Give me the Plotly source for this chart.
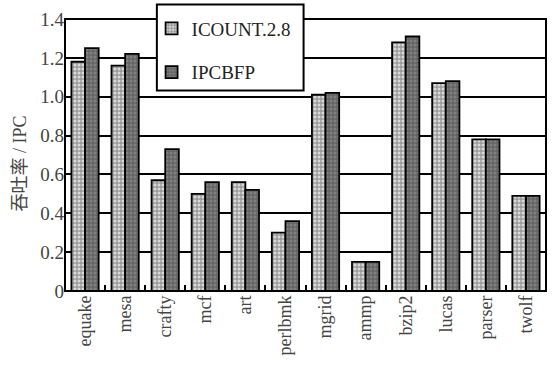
import plotly.graph_objects as go

# Benchmarks and throughput (IPC) for the two fetch policies
benchmarks = ["equake", "mesa", "crafty", "mcf", "art", "perlbmk",
              "mgrid", "ammp", "bzip2", "lucas", "parser", "twolf"]
icount_ipc = [1.18, 1.16, 0.57, 0.50, 0.56, 0.30, 1.01, 0.15, 1.28, 1.07, 0.78, 0.49]
ipcbfp_ipc = [1.25, 1.22, 0.73, 0.56, 0.52, 0.36, 1.02, 0.15, 1.31, 1.08, 0.78, 0.49]

y_tick_vals = [0, 0.2, 0.4, 0.6, 0.8, 1.0, 1.2, 1.4]
y_tick_text = ["0", "0.2", "0.4", "0.6", "0.8", "1.0", "1.2", "1.4"]

SERIF = "Times New Roman"

fig = go.Figure()
fig.add_trace(go.Bar(
    x=benchmarks, y=icount_ipc, name="ICOUNT.2.8", legendgroup="a",
    marker=dict(color="#9a9a9a", line=dict(color="black", width=1.8),
                pattern=dict(shape=".", bgcolor="#9a9a9a", fgcolor="#dadada",
                             size=4, solidity=0.45, fillmode="replace")),
))
fig.add_trace(go.Bar(
    x=benchmarks, y=ipcbfp_ipc, name="IPCBFP", legendgroup="b",
    marker=dict(color="#666666", line=dict(color="black", width=1.8),
                pattern=dict(shape=".", bgcolor="#646464", fgcolor="#808080",
                             size=4, solidity=0.45, fillmode="replace")),
))

# Plot frame and legend frame
fig.add_shape(type="rect", xref="paper", yref="paper", x0=0, x1=1, y0=0, y1=1,
              line=dict(color="black", width=2), layer="above")
fig.add_shape(type="rect", xref="paper", yref="paper",
              x0=0.191, x1=0.496, y0=0.737, y1=1.053,
              fillcolor="white", line=dict(color="black", width=2),
              layer="above")

fig.add_annotation(text="吞吐率 / IPC", textangle=-90, xref="paper", yref="paper",
                   x=-0.093, y=0.47, xanchor="center", yanchor="middle",
                   showarrow=False,
                   font=dict(family="'Liberation Serif', 'Noto Sans CJK SC', serif",
                             size=18, color="#444444"))

fig.update_layout(
    template="none",
    width=555, height=378,
    margin=dict(l=65, r=9, t=19, b=87),
    paper_bgcolor="white", plot_bgcolor="white",
    barmode="group", bargap=0.32, bargroupgap=0.0,
    showlegend=True,
    legend=dict(x=0.18, y=1.035, xanchor="left", yanchor="top",
                bgcolor="rgba(0,0,0,0)", borderwidth=0,
                traceorder="grouped", tracegroupgap=16,
                font=dict(family=SERIF, size=19, color="#222222")),
    xaxis=dict(tickangle=-90, showgrid=False, zeroline=False,
               ticks="inside", tickson="boundaries", ticklen=6,
               tickwidth=2, tickcolor="black",
               tickfont=dict(family=SERIF, size=18)),
    yaxis=dict(range=[0, 1.4], tickvals=y_tick_vals, ticktext=y_tick_text,
               showgrid=True, gridcolor="black", gridwidth=2,
               ticks="", zeroline=False,
               tickfont=dict(family="serif", size=19)),
)

fig.write_html("out.html")
